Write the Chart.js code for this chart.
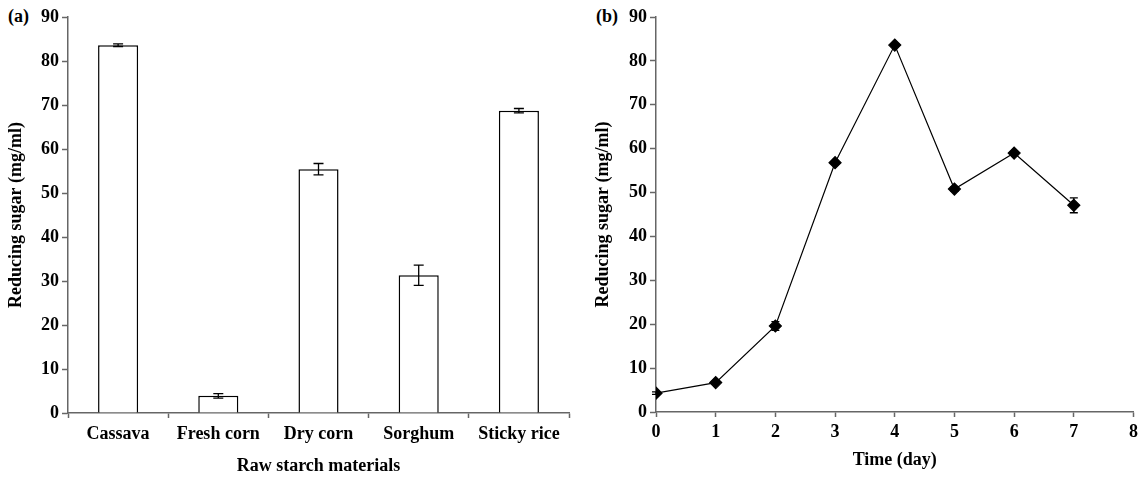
<!DOCTYPE html>
<html lang="en">
<head>
    <meta charset="UTF-8">
    <title>Reducing sugar</title>
    <script src="https://cdn.jsdelivr.net/npm/chart.js@4.4.1/dist/chart.umd.min.js"></script>
    <style>
        body { margin: 0; background: #fff; }
        .panel { position: absolute; top: 0; }
        .tag { position: absolute; top: 6px; font: bold 18px "Liberation Serif", serif; color: #000; }
    </style>
</head>
<body>
    <div class="tag" style="left:8px">(a)</div>
    <div class="tag" style="left:596px">(b)</div>
    <div class="panel" style="left:0px"><canvas id="chartA" width="580" height="477"></canvas></div>
    <div class="panel" style="left:575px"><canvas id="chartB" width="568" height="477"></canvas></div>

    <script>
        // (a) starch materials
        const materials = ['Cassava', 'Fresh corn', 'Dry corn', 'Sorghum', 'Sticky rice'];
        const sugarByMaterial = [83.6, 3.9, 55.4, 31.3, 68.7];
        const sugarByMaterialErr = [0.3, 0.5, 1.3, 2.3, 0.5];

        // (b) time course
        const days = [0, 1, 2, 3, 4, 5, 6, 7];
        const sugarByDay = [4.3, 6.7, 19.6, 56.8, 83.6, 50.8, 59.0, 47.1];
        const sugarByDayErr = [0.3, 0.3, 1.0, 0.4, 0.3, 0.5, 0.3, 1.7];

        const font = { family: '"Liberation Serif", serif', size: 18, weight: 'bold' };
        const axisGrey = '#666';

        // draws vertical error bars with caps, using dataset.errors
        const errorBars = {
            id: 'errorBars',
            afterDatasetsDraw(chart, args, opts) {
                const ctx = chart.ctx;
                const y = chart.scales.y;
                chart.data.datasets.forEach((ds, i) => {
                    const meta = chart.getDatasetMeta(i);
                    meta.data.forEach((el, j) => {
                        const v = ds.data[j].y !== undefined ? ds.data[j].y : ds.data[j];
                        const e = ds.errors[j];
                        const top = y.getPixelForValue(v + e);
                        const bot = y.getPixelForValue(v - e);
                        const x = el.x;
                        ctx.save();
                        ctx.strokeStyle = '#000';
                        ctx.lineWidth = 1.3;
                        ctx.beginPath();
                        ctx.moveTo(x, top); ctx.lineTo(x, bot);
                        ctx.moveTo(x - opts.cap, top); ctx.lineTo(x + opts.cap, top);
                        ctx.moveTo(x - opts.cap, bot); ctx.lineTo(x + opts.cap, bot);
                        ctx.stroke();
                        ctx.restore();
                    });
                });
            }
        };

        function yAxis(width, titlePad) {
            return {
                min: 0, max: 90,
                ticks: { stepSize: 10, color: '#000', font: font, padding: 3 },
                grid: { drawOnChartArea: false, tickLength: 6, color: axisGrey, tickWidth: 1.5 },
                border: { color: axisGrey, width: 1.5 },
                title: { display: true, text: 'Reducing sugar (mg/ml)', color: '#000', font: font, padding: { top: titlePad, bottom: 0 } },
                afterFit(s) { s.width = width; }
            };
        }

        new Chart(document.getElementById('chartA'), {
            type: 'bar',
            data: {
                labels: materials,
                datasets: [{
                    data: sugarByMaterial,
                    errors: sugarByMaterialErr,
                    backgroundColor: '#fff',
                    borderColor: '#000',
                    borderWidth: 1.5,
                    categoryPercentage: 1,
                    barPercentage: 0.4
                }]
            },
            options: {
                responsive: false,
                animation: false,
                layout: { padding: { top: 17, right: 11, left: 0, bottom: 0 } },
                plugins: { legend: { display: false }, tooltip: { enabled: false }, errorBars: { cap: 5 } },
                scales: {
                    x: {
                        ticks: { color: '#000', font: font, padding: 6 },
                        grid: { drawOnChartArea: false, tickLength: 5, color: axisGrey, tickWidth: 1.5, offset: true },
                        border: { color: axisGrey, width: 1.5 },
                        title: { display: true, text: 'Raw starch materials', color: '#000', font: font, padding: { top: 0, bottom: 0 } },
                        afterFit(s) { s.height = 64; }
                    },
                    y: yAxis(68, 6)
                }
            },
            plugins: [errorBars]
        });

        new Chart(document.getElementById('chartB'), {
            type: 'line',
            data: {
                datasets: [{
                    data: days.map((d, i) => ({ x: d, y: sugarByDay[i] })),
                    errors: sugarByDayErr,
                    borderColor: '#000',
                    borderWidth: 1.2,
                    pointStyle: 'rectRot',
                    pointRadius: 6,
                    pointBackgroundColor: '#000',
                    pointBorderColor: '#000',
                    tension: 0
                }]
            },
            options: {
                responsive: false,
                animation: false,
                layout: { padding: { top: 17, right: 9, left: 0, bottom: 0 } },
                plugins: { legend: { display: false }, tooltip: { enabled: false }, errorBars: { cap: 4 } },
                scales: {
                    x: {
                        type: 'linear', min: 0, max: 8,
                        ticks: { stepSize: 1, color: '#000', font: font, padding: 5 },
                        grid: { drawOnChartArea: false, tickLength: 5, color: axisGrey, tickWidth: 1.5 },
                        border: { color: axisGrey, width: 1.5 },
                        title: { display: true, text: 'Time (day)', color: '#000', font: font, padding: { top: 0, bottom: 6 } },
                        afterFit(s) { s.height = 65; }
                    },
                    y: yAxis(81, 18)
                }
            },
            plugins: [errorBars]
        });
    </script>
</body>
</html>
